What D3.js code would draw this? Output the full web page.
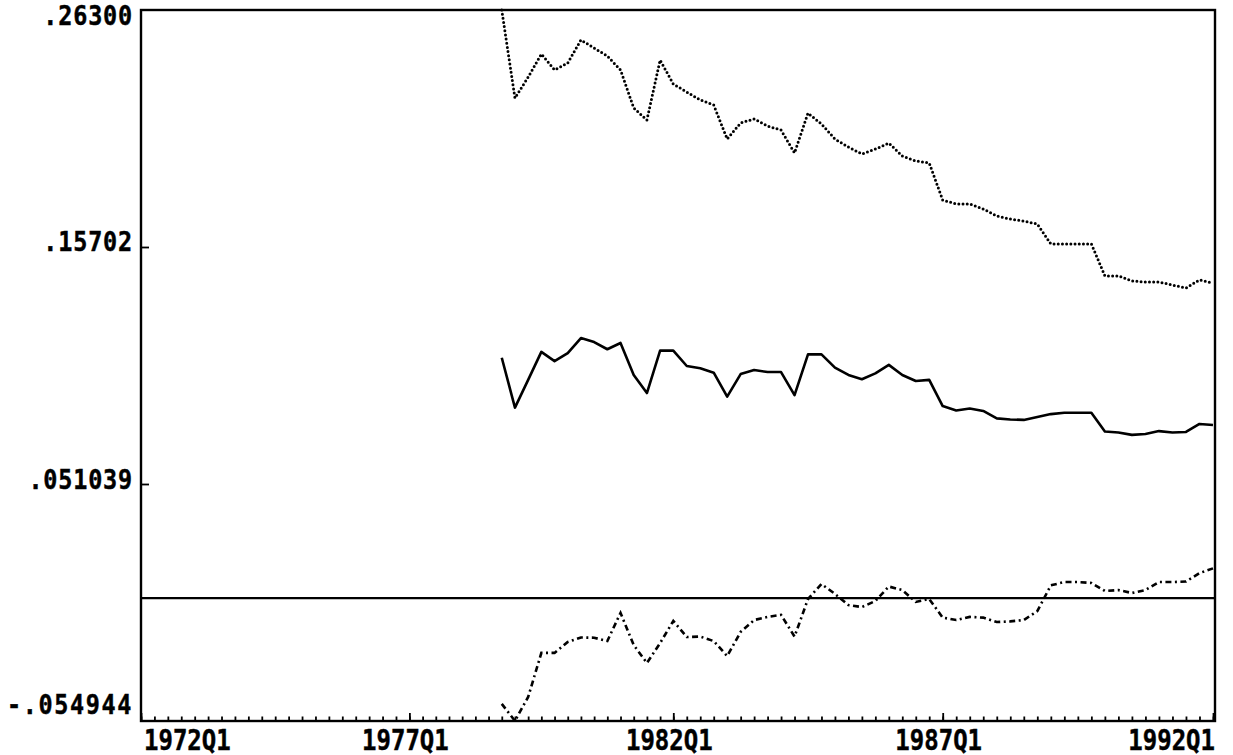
<!DOCTYPE html>
<html><head><meta charset="utf-8">
<script src="https://cdn.jsdelivr.net/npm/d3@7"></script>
<style>html,body{margin:0;padding:0;background:#fff;overflow:hidden}</style>
</head><body>
<svg id="c" width="1233" height="755"></svg>
<script>
const quarters = ["1978Q4",
 "1979Q1","1979Q2","1979Q3","1979Q4","1980Q1","1980Q2","1980Q3","1980Q4",
 "1981Q1","1981Q2","1981Q3","1981Q4","1982Q1","1982Q2","1982Q3","1982Q4",
 "1983Q1","1983Q2","1983Q3","1983Q4","1984Q1","1984Q2","1984Q3","1984Q4",
 "1985Q1","1985Q2","1985Q3","1985Q4","1986Q1","1986Q2","1986Q3","1986Q4",
 "1987Q1","1987Q2","1987Q3","1987Q4","1988Q1","1988Q2","1988Q3","1988Q4",
 "1989Q1","1989Q2","1989Q3","1989Q4","1990Q1","1990Q2","1990Q3","1990Q4",
 "1991Q1","1991Q2","1991Q3","1991Q4","1992Q1"];
const upperBand = [0.2630,
 0.2236,0.2330,0.2433,0.2362, 0.2393,0.2496,0.2460,0.2424,
 0.2362,0.2192,0.2138,0.2406, 0.2299,0.2263,0.2228,0.2205,
 0.2053,0.2125,0.2143,0.2111, 0.2093,0.1991,0.2169,0.2120,
 0.2053,0.2017,0.1986,0.2008, 0.2035,0.1977,0.1955,0.1946,
 0.1780,0.1763,0.1763,0.1740, 0.1709,0.1695,0.1686,0.1673,
 0.1584,0.1584,0.1584,0.1584, 0.1441,0.1441,0.1418,0.1414,
 0.1414,0.1400,0.1387,0.1423, 0.1409];
const estimate = [0.1075,
 0.0852,0.0976,0.1101,0.1060, 0.1096,0.1163,0.1145,0.1113,
 0.1141,0.0998,0.0917,0.1107, 0.1107,0.1038,0.1028,0.1008,
 0.0901,0.1002,0.1020,0.1011, 0.1011,0.0908,0.1090,0.1090,
 0.1031,0.0998,0.0979,0.1005, 0.1043,0.0998,0.0971,0.0976,
 0.0859,0.0839,0.0848,0.0837, 0.0804,0.0799,0.0797,0.0810,
 0.0823,0.0829,0.0829,0.0829, 0.0745,0.0741,0.0730,0.0734,
 0.0747,0.0741,0.0743,0.0779, 0.0774];
const lowerBand = [-0.0473,
 -0.0549,-0.0442,-0.0245,-0.0245, -0.0196,-0.0176,-0.0177,-0.0192,
 -0.0066,-0.0210,-0.0290,-0.0201, -0.0102,-0.0174,-0.0172,-0.0192,
 -0.0259,-0.0151,-0.0098,-0.0084, -0.0075,-0.0172,-0.0004,0.0063,
 0.0019,-0.0031,-0.0040,-0.0013, 0.0052,0.0036,-0.0017,-0.0004,
 -0.0087,-0.0098,-0.0084,-0.0087, -0.0107,-0.0104,-0.0098,-0.0058,
 0.0057,0.0072,0.0072,0.0068, 0.0032,0.0036,0.0023,0.0036,
 0.0072,0.0072,0.0074,0.0112, 0.0133];
const xTickLabels = ["1972Q1","1977Q1","1982Q1","1987Q1","1992Q1"];
const yTickValues = [0.263, 0.15702, 0.051039, -0.054944];
const yTickLabels = [".26300", ".15702", ".051039", "-.054944"];

const qnum = s => +s.slice(0,4) + (+s.slice(5) - 1) / 4;

const svg = d3.select("#c");
const L = 141, R = 1215, T = 10, B = 721;
const x = d3.scaleLinear()
  .domain(xTickLabels.map(qnum))
  .range([L, 409.4, 673.3, 942.7, 1213]);
const y = d3.scaleLinear().domain([yTickValues[3], yTickValues[0]]).range([B, T]);

const font = "'DejaVu Sans Mono', monospace";

// frame
svg.append("rect").attr("x", L).attr("y", T).attr("width", R - L).attr("height", B - T)
  .attr("fill", "none").attr("stroke", "#000").attr("stroke-width", 2.4);

// zero line
svg.append("line").attr("x1", L).attr("x2", R).attr("y1", y(0)).attr("y2", y(0))
  .attr("stroke", "#000").attr("stroke-width", 2.2);

// x ticks (every quarter, major every 5 years)
const allQ = d3.range(qnum(xTickLabels[0]), qnum(xTickLabels[4]) + 0.01, 0.25);
const minorAxis = d3.axisBottom(x).tickValues(allQ).tickSize(-4.5).tickFormat("");
const gx = svg.append("g").attr("transform", `translate(0,${B})`).call(minorAxis);
const majorAxis = d3.axisBottom(x).tickValues(xTickLabels.map(qnum)).tickSize(-8).tickFormat("");
const gx2 = svg.append("g").attr("transform", `translate(0,${B})`).call(majorAxis);
[gx, gx2].forEach(g => {
  g.select(".domain").remove();
  g.selectAll("line").attr("stroke", "#000").attr("stroke-width", 1.8);
});

// x labels
xTickLabels.forEach((lab, i) => {
  const anchor = i === 0 ? "start" : (i === xTickLabels.length - 1 ? "end" : "middle");
  const px = i === 0 ? L + 3 : (i === xTickLabels.length - 1 ? R : x(qnum(lab)) - 4);
  svg.append("text")
    .attr("transform", `translate(${px},${750}) scale(1,1.15)`)
    .attr("text-anchor", anchor)
    .attr("font-family", font).attr("font-weight", "bold").attr("font-size", 24)
    .attr("fill", "#000").attr("stroke", "#000").attr("stroke-width", 0.4).text(lab);
});

// y ticks
const yAxis = d3.axisLeft(y).tickValues(yTickValues.slice(1, 3)).tickSize(-8).tickFormat("");
const gy = svg.append("g").attr("transform", `translate(${L},0)`).call(yAxis);
gy.select(".domain").remove();
gy.selectAll("line").attr("stroke", "#000").attr("stroke-width", 1.8);

// y labels
const yOff = [8, -3, -2, -14];
yTickValues.forEach((v, i) => {
  svg.append("text")
    .attr("transform", `translate(${L - 8},${y(v) + yOff[i]}) scale(1,1.12)`)
    .attr("text-anchor", "end").attr("dominant-baseline", "middle")
    .attr("letter-spacing", i === 3 ? 1.6 : 0.8)
    .attr("font-family", font).attr("font-weight", "bold").attr("font-size", 23.5)
    .attr("fill", "#000").attr("stroke", "#000").attr("stroke-width", 0.4).text(yTickLabels[i]);
});

const line = vals => d3.line()
  .x((d, i) => x(qnum(quarters[i])))
  .y(d => y(d))(vals);

svg.append("path").attr("d", line(upperBand)).attr("fill", "none")
  .attr("stroke", "#000").attr("stroke-width", 3)
  .attr("stroke-linecap", "round").attr("stroke-dasharray", "0 4.2");
svg.append("path").attr("d", line(estimate)).attr("fill", "none")
  .attr("stroke", "#000").attr("stroke-width", 2.6).attr("stroke-linejoin", "round");
svg.append("path").attr("d", line(lowerBand)).attr("fill", "none")
  .attr("stroke", "#000").attr("stroke-width", 2.6)
  .attr("stroke-dasharray", "6 3.5 2 3.5");
</script>
</body></html>
